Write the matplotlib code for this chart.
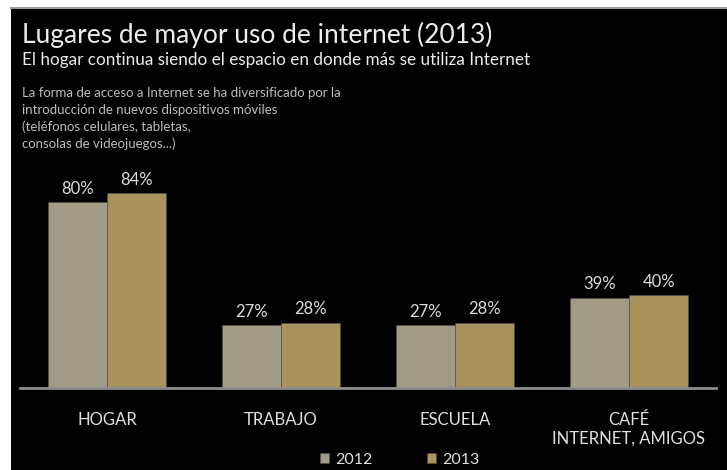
import matplotlib.pyplot as plt
import numpy as np
from matplotlib.patches import Rectangle
from matplotlib.lines import Line2D

plt.rcParams['font.family'] = ['Lato', 'DejaVu Sans']

lugares = ["HOGAR", "TRABAJO", "ESCUELA", "CAFÉ\nINTERNET, AMIGOS"]
anios = ["2012", "2013"]
v2012 = [80, 27, 27, 39]
v2013 = [84, 28, 28, 40]
colores = ["#a29c86", "#a8935f"]

fig = plt.figure(figsize=(7.27, 4.70), dpi=100, facecolor="white")
# fondo negro de la diapositiva
fig.patches.append(Rectangle((11/727, 0), 1, 1 - 8/470, transform=fig.transFigure,
                             facecolor="black", edgecolor="none", zorder=-10))
fig.lines.append(Line2D([11/727, 1], [1 - 7.5/470, 1 - 7.5/470], transform=fig.transFigure,
                        color="#9a9a9a", lw=1.5, zorder=-5))

ax = fig.add_axes([20/727, 1 - 388/470, 696/727, 232/470])
ax.set_facecolor("none")

x = np.arange(len(lugares))
w = 0.34
b1 = ax.bar(x - w/2, v2012, w, color=colores[0], label=anios[0], edgecolor="#55504a", linewidth=0.4)
b2 = ax.bar(x + w/2, v2013, w, color=colores[1], label=anios[1], edgecolor="#55504a", linewidth=0.4)
for bars in (b1, b2):
    for r in bars:
        ax.annotate(f"{r.get_height():.0f}%", (r.get_x() + r.get_width()/2, r.get_height()),
                    xytext=(0, 4), textcoords="offset points", ha="center", va="bottom",
                    color="#dcdcdc", fontsize=12)

ax.set_xlim(-0.5, 3.5)
ax.set_ylim(0, 100)
for s in ["top", "right", "left"]:
    ax.spines[s].set_visible(False)
ax.spines["bottom"].set_color("#8c8c8c")
ax.spines["bottom"].set_linewidth(2)
ax.set_yticks([])
ax.set_xticks(x)
ax.set_xticklabels(lugares, color="#e0e0e0", fontsize=12, linespacing=1.25)
ax.tick_params(axis="x", length=0, pad=17)

leg = ax.legend(loc="center", bbox_to_anchor=(0.546, -0.31), ncol=2, frameon=False,
                fontsize=11.5, handlelength=0.55, handleheight=0.55, columnspacing=3.4,
                handletextpad=0.4)
for t in leg.get_texts():
    t.set_color("#e0e0e0")

fig.text(22/727, 1 - 43/470, "Lugares de mayor uso de internet (2013)", color="#ececec",
         fontsize=19, va="baseline")
fig.text(22/727, 1 - 65/470, "El hogar continua siendo el espacio en donde más se utiliza Internet",
         color="#ececec", fontsize=12.3, va="baseline")
notas = ["La forma de acceso a Internet se ha diversificado por la",
         "introducción de nuevos dispositivos móviles",
         "(teléfonos celulares, tabletas,",
         "consolas de videojuegos...)"]
for i, linea in enumerate(notas):
    fig.text(22/727, 1 - (97 + i*17)/470, linea, color="#bdbdbd", fontsize=9.5, va="baseline")

plt.savefig("out.png", dpi=100, facecolor=fig.get_facecolor())
